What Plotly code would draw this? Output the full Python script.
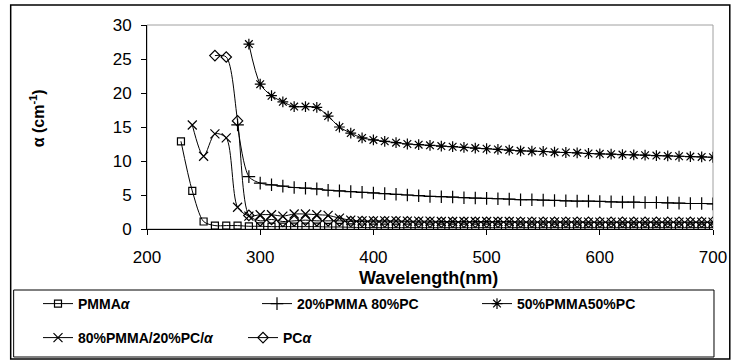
import plotly.graph_objects as go

# ---- data (wavelength in nm, alpha in cm^-1) ----
wl_pmma = list(range(230, 710, 10))
pmma = [12.9, 5.6, 1.1, 0.5, 0.5, 0.5, 0.4, 0.4, 0.35, 0.35, 0.35, 0.35, 0.35, 0.3, 0.3, 0.25,
        0.22, 0.2, 0.2, 0.2, 0.2, 0.2, 0.2, 0.2, 0.2, 0.2, 0.2, 0.2, 0.2, 0.2, 0.2, 0.2,
        0.2, 0.2, 0.2, 0.2, 0.2, 0.2, 0.2, 0.2, 0.2, 0.2, 0.2, 0.2, 0.2, 0.2, 0.2, 0.2]

wl_20_80 = list(range(280, 710, 10))
pmma20_pc80 = [15.3, 7.7, 6.75, 6.5, 6.3, 6.1, 6.0, 5.9, 5.7, 5.6, 5.5, 5.4, 5.3, 5.2, 5.1,
               5.0, 4.9, 4.8, 4.75, 4.7, 4.6, 4.55, 4.5, 4.45, 4.4, 4.3, 4.3, 4.25, 4.2,
               4.15, 4.1, 4.1, 4.05, 4.0, 3.95, 3.95, 3.9, 3.9, 3.85, 3.8, 3.75, 3.75, 3.7]

wl_50_50 = list(range(290, 710, 10))
pmma50_pc50 = [27.2, 21.3, 19.6, 18.7, 18.0, 18.0, 17.9, 16.6, 15.0, 14.1, 13.4, 13.1, 12.9,
               12.7, 12.5, 12.4, 12.3, 12.2, 12.1, 12.0, 11.9, 11.8, 11.7, 11.6, 11.5, 11.45,
               11.4, 11.3, 11.25, 11.2, 11.1, 11.05, 11.0, 10.95, 10.9, 10.85, 10.8, 10.75,
               10.7, 10.65, 10.6, 10.55]

wl_80_20 = list(range(240, 710, 10))
pmma80_pc20 = [15.3, 10.7, 14.0, 13.4, 3.2, 1.9, 2.1, 2.1, 1.9, 2.2, 2.2, 2.1, 2.0, 1.6, 1.3,
               1.2, 1.2, 1.2, 1.2, 1.15, 1.15, 1.15, 1.1, 1.1, 1.1, 1.1, 1.1, 1.1, 1.1, 1.05,
               1.05, 1.05, 1.05, 1.05, 1.05, 1.0, 1.0, 1.0, 1.0, 1.0, 1.0, 1.0, 1.0, 1.0, 1.0,
               1.0, 1.0]

wl_pc = list(range(260, 710, 10))
pc = [25.5, 25.3, 15.9, 2.0, 1.2, 1.4, 1.1, 1.2, 1.3, 1.2, 1.2, 1.2, 1.1, 1.1, 1.05, 1.05,
      1.05, 1.05, 1.0, 1.0, 1.0, 1.0, 1.0, 1.0, 1.0, 1.0, 1.0, 1.0, 1.0, 1.0, 1.0, 1.0, 1.0,
      1.0, 1.0, 1.0, 1.0, 1.0, 1.0, 1.0, 1.0, 1.0, 1.0, 1.0, 1.0]

names = ["PMMA<i>α</i>", "20%PMMA 80%PC", "50%PMMA50%PC", "80%PMMA/20%PC/<i>α</i>", "PC<i>α</i>"]

FONT = "Liberation Sans, Arial, sans-serif"
W, H = 739, 361
L, R, T, B = 147, 720, 25, 229  # plot area in pixels


def px(x):
    return (x - L) / (R - L)


def py(y):
    return (B - y) / (B - T)


fig = go.Figure()

series = [
    (wl_pmma, pmma, names[0], "square-open", 7, "legend"),
    (wl_20_80, pmma20_pc80, names[1], "cross-thin-open", 9, "legend2"),
    (wl_50_50, pmma50_pc50, names[2], "asterisk-open", 9, "legend3"),
    (wl_80_20, pmma80_pc20, names[3], "x-thin-open", 9, "legend4"),
    (wl_pc, pc, names[4], "diamond-open", 8, "legend5"),
]
for x, y, n, sym, sz, lg in series:
    fig.add_trace(go.Scatter(
        x=x, y=y, name=n, mode="lines+markers",
        line=dict(color="black", width=1, shape="spline", smoothing=0.8),
        marker=dict(symbol=sym, size=sz, color="black", line=dict(color="black", width=1.2)),
        legend=lg,
    ))

# plot area gray border (top/right)
fig.add_shape(type="rect", xref="paper", yref="paper", x0=0, x1=1, y0=0, y1=1,
              line=dict(color="#a0a0a0", width=1), layer="below")
# outer chart frame
fig.add_shape(type="rect", xref="paper", yref="paper",
              x0=px(9), x1=px(737), y0=py(359), y1=py(5),
              line=dict(color="black", width=1.5))
# legend frame
fig.add_shape(type="rect", xref="paper", yref="paper",
              x0=px(12), x1=px(721), y0=py(357), y1=py(290),
              line=dict(color="black", width=1))

legend_font = dict(family=FONT, size=14, color="black", weight="bold")
# (text start x, row centre y) for each legend entry
legend_pos = [(78, 304), (297, 304), (517, 304), (78, 338), (283, 338)]
legend_cfg = {}
for i, (lx, ly) in enumerate(legend_pos):
    key = "legend" if i == 0 else f"legend{i + 1}"
    legend_cfg[key] = dict(orientation="h", xref="container", yref="container",
                           x=(lx - 40) / W, y=1 - ly / H, xanchor="left", yanchor="middle",
                           font=legend_font, bgcolor="rgba(0,0,0,0)", itemwidth=30)

fig.update_layout(
    width=W, height=H,
    margin=dict(l=L, r=W - R, t=T, b=H - B),
    paper_bgcolor="white", plot_bgcolor="white",
    font=dict(family=FONT, color="black", size=16),
    showlegend=True,
    xaxis=dict(range=[200, 700], dtick=100, tick0=200, showgrid=False, zeroline=False,
               showline=True, linecolor="black", linewidth=1,
               ticks="outside", ticklen=5, tickcolor="black",
               ticklabelstandoff=8, tickfont=dict(size=17)),
    yaxis=dict(range=[0, 30], dtick=5, tick0=0, showgrid=False, zeroline=False,
               showline=True, linecolor="black", linewidth=1,
               ticks="outside", ticklen=5, tickcolor="black",
               ticklabelstandoff=6, tickfont=dict(size=17)),
    annotations=[
        dict(text="<b>Wavelength(nm)</b>", xref="paper", yref="paper",
             x=px(432), y=py(278), showarrow=False, font=dict(size=18),
             xanchor="center", yanchor="middle"),
        dict(text="<b>α (cm<sup>-1</sup>)</b>", xref="paper", yref="paper",
             x=px(36), y=py(118), showarrow=False, font=dict(size=16), textangle=-90,
             xanchor="center", yanchor="middle"),
    ],
    **legend_cfg,
)

fig.write_html("out.html", config={"displayModeBar": False},
               post_script="document.body.style.margin='0px';")
